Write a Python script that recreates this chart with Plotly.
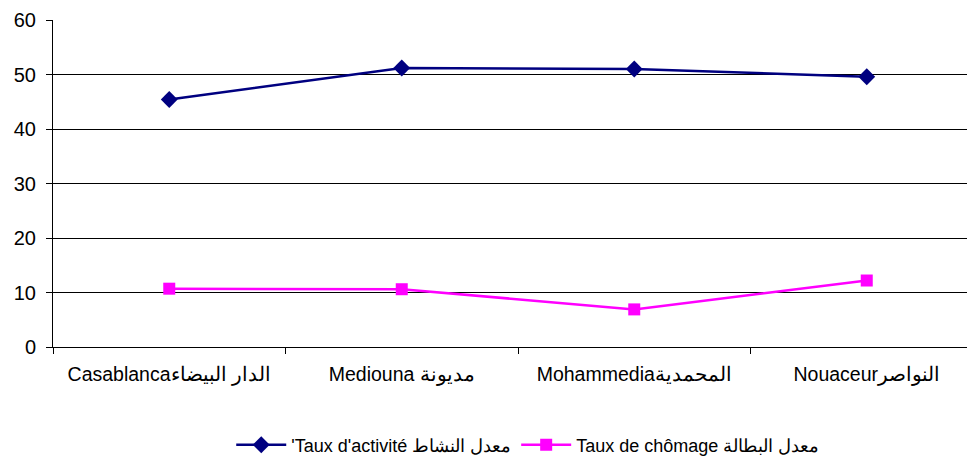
import plotly.graph_objects as go

categories = ["Casablancaالدار البيضاء", "Mediouna مديونة", "Mohammediaالمحمدية", "Nouaceurالنواصر"]
activite = [45.4, 51.2, 51.0, 49.6]
chomage = [10.7, 10.6, 6.9, 12.2]
series_names = ["'Taux d'activité معدل النشاط", "Taux de chômage معدل البطالة"]
y_ticks = [0, 10, 20, 30, 40, 50, 60]

font_family = "Liberation Sans, Arial, sans-serif"

fig = go.Figure()
fig.add_trace(go.Scatter(
    x=categories, y=activite, name=series_names[0], mode="lines+markers",
    line=dict(color="#000080", width=2.5),
    marker=dict(symbol="diamond", size=13, color="#000080"),
))
fig.add_trace(go.Scatter(
    x=categories, y=chomage, name=series_names[1], mode="lines+markers",
    line=dict(color="#FF00FF", width=2.5),
    marker=dict(symbol="square", size=12, color="#FF00FF"),
))

fig.update_layout(
    width=975, height=462,
    margin=dict(l=45, r=0, t=12, b=123, autoexpand=False),
    paper_bgcolor="white", plot_bgcolor="white",
    font=dict(family=font_family, color="black", size=19),
    showlegend=True,
    legend=dict(
        orientation="h", x=0.511, xanchor="center", y=-0.30, yanchor="middle",
        font=dict(size=18, family=font_family), itemwidth=50,
        tracegroupgap=0,
    ),
    xaxis=dict(
        type="category", range=[-0.5, 3.5], automargin=False,
        showgrid=False, showline=True, linecolor="black", linewidth=1,
        ticks="outside", tickson="boundaries", ticklen=6, tickcolor="black",
        tickfont=dict(size=19.5), zeroline=False, ticklabelstandoff=10,
        ticklabeloverflow="allow",
    ),
    yaxis=dict(
        range=[0, 60], tickvals=y_ticks, showgrid=True, gridcolor="black", gridwidth=1,
        showline=True, linecolor="black", linewidth=1, automargin=False,
        ticks="outside", ticklen=6, tickcolor="black",
        tickfont=dict(size=20), zeroline=False, ticklabelstandoff=6,
        ticklabeloverflow="allow",
    ),
)

fig.write_html("out.html")
